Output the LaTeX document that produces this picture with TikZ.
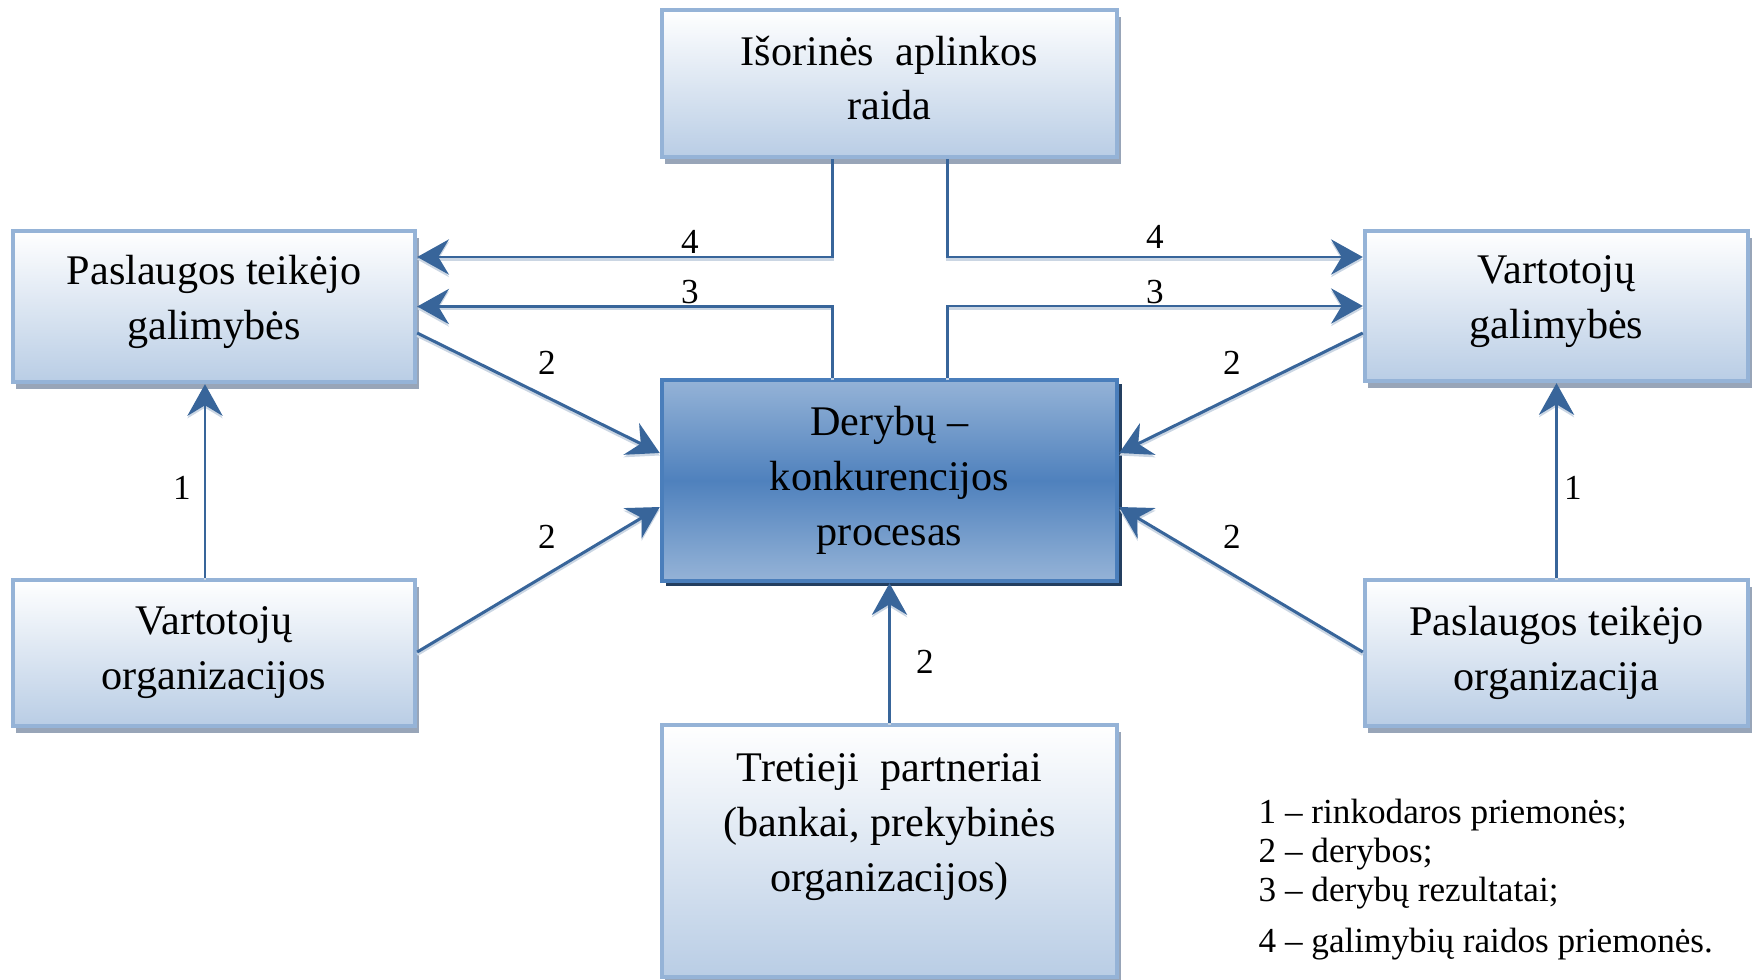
\documentclass[tikz,border=0pt]{standalone}
\usepackage{fontspec}
\setmainfont{Liberation Serif}
\usetikzlibrary{calc,arrows.meta,shadows}

\definecolor{boxedge}{HTML}{95B3D7}
\definecolor{boxlow}{HTML}{B9CDE5}
\definecolor{boxshade}{HTML}{98A5B8}
\definecolor{coreedge}{HTML}{4A7EBB}
\definecolor{coremid}{HTML}{4F81BD}
\definecolor{corelight}{HTML}{95B3D7}
\definecolor{coreshade}{HTML}{243F60}
\definecolor{link}{HTML}{38659A}
\definecolor{linkshade}{HTML}{CBD6E3}

\tikzset{
  boxfont/.style={font=\fontsize{12}{15.6}\selectfont},
  lightbox/.style={draw=boxedge, line width=1.2pt, top color=white, bottom color=boxlow,
    inner sep=0pt, align=center, boxfont,
    general shadow={fill=boxshade, shadow xshift=0.035cm, shadow yshift=-0.07cm}},
  corebox/.style={draw=coreedge, line width=1.2pt, top color=corelight, bottom color=corelight,
    middle color=coremid, inner sep=0pt, align=center, boxfont,
    general shadow={fill=coreshade, shadow xshift=0.045cm, shadow yshift=-0.045cm}},
  boxtext/.style={align=center, boxfont, inner sep=0pt},
  conn/.style={draw=link, line width=0.85pt, -{Stealth[length=9pt,width=10pt,inset=3pt]},
    preaction={draw=linkshade, line width=0.85pt, transform canvas={yshift=-0.025cm}}},
  num/.style={font=\fontsize{10}{12}\selectfont, inner sep=0pt},
  legend/.style={font=\fontsize{10}{12}\selectfont, inner sep=0pt, anchor=base west}
}

\begin{document}
\begin{tikzpicture}[x=0.01cm, y=-0.01cm]
  \useasboundingbox (0,0) rectangle (1752,979);

  % boxes
  \node[lightbox, minimum width=4.55cm, minimum height=1.47cm] (top) at (889.5,83.5) {};
  \node[boxtext] (toptext) at (889.5,78) {Išorinės\ \ aplinkos\\raida};
  \node[lightbox, minimum width=4.02cm, minimum height=1.51cm] (lt) at (214,306.5) {};
  \node[boxtext] (lttext) at (214,302) {Paslaugos teikėjo\\galimybės};
  \node[lightbox, minimum width=3.83cm, minimum height=1.50cm] (rt) at (1556.5,306) {};
  \node[boxtext] (rttext) at (1556.5,302) {Vartotojų\\galimybės};
  \node[corebox, minimum width=4.55cm, minimum height=2.01cm] (ctr) at (889.5,480.5)
    {Derybų –\\konkurencijos\\procesas};
  \node[lightbox, minimum width=4.02cm, minimum height=1.46cm] (lb) at (214,653)
    {Vartotojų\\organizacijos};
  \node[lightbox, minimum width=3.83cm, minimum height=1.46cm] (rb) at (1556.5,653)
    {Paslaugos teikėjo\\organizacija};
  \node[lightbox, minimum width=4.55cm, minimum height=2.52cm] (bot) at (889.5,851) {};
  \node[boxtext] (bottext) at (889.5,827)
    {Tretieji\ \ partneriai\\(bankai, prekybinės\\organizacijos)};

  % development measures (4) and negotiation results (3)
  \draw[conn] ($(top.south)+(-57.5,0)$) |- ($(lt.east)+(0,-49.5)$);
  \draw[conn] ($(ctr.north)+(-57.5,0)$) |- (lt.east);
  \draw[conn] ($(top.south)+(57.5,0)$) |- ($(rt.west)+(0,-49)$);
  \draw[conn] ($(ctr.north)+(57.5,0)$) |- (rt.west);

  % negotiations (2)
  \draw[conn] ($(lt.east)+(0,26.5)$) -- ($(ctr.west)+(0,-27.5)$);
  \draw[conn] ($(lb.east)+(0,-1)$) -- ($(ctr.west)+(0,26.5)$);
  \draw[conn] ($(rt.west)+(0,27)$) -- ($(ctr.east)+(0,-27.5)$);
  \draw[conn] ($(rb.west)+(0,-1)$) -- ($(ctr.east)+(0,26.5)$);
  \draw[conn] (bot.north) -- (ctr.south);

  % marketing measures (1)
  \draw[conn] ($(lb.north)+(-9,0)$) -- ($(lt.south)+(-9,0)$);
  \draw[conn] (rb.north) -- (rt.south);

  % connector numbers
  \node[num] (n4l) at (690,242) {4};
  \node[num] (n3l) at (690,292) {3};
  \node[num] (n4r) at (1155,237) {4};
  \node[num] (n3r) at (1155,292) {3};
  \node[num] (n2a) at (547,363) {2};
  \node[num] (n2b) at (547,537) {2};
  \node[num] (n2c) at (1232,363) {2};
  \node[num] (n2d) at (1232,537) {2};
  \node[num] (n2e) at (925,662) {2};
  \node[num] (n1l) at (182,488) {1};
  \node[num] (n1r) at (1573,488) {1};

  % legend
  \node[legend] (leg1) at (1258,823) {1 – rinkodaros priemonės;};
  \node[legend] (leg2) at (1258,862) {2 – derybos;};
  \node[legend] (leg3) at (1258,901) {3 – derybų rezultatai;};
  \node[legend] (leg4) at (1258,952) {4 – galimybių raidos priemonės.};
\end{tikzpicture}
\end{document}
